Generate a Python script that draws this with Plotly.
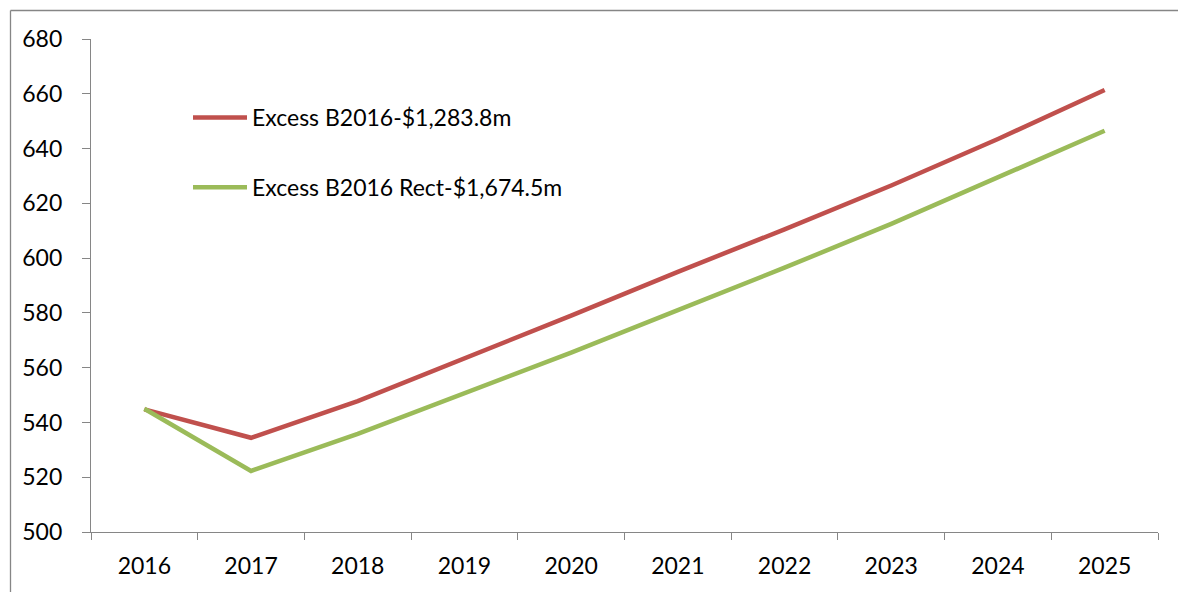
import plotly.graph_objects as go

years = ["2016", "2017", "2018", "2019", "2020", "2021", "2022", "2023", "2024", "2025"]
excess_b2016 = [544.8, 534.4, 547.8, 563.2, 579.0, 595.0, 610.5, 626.5, 643.5, 661.4]
excess_b2016_rect = [545.0, 522.3, 535.8, 550.5, 565.5, 581.0, 596.5, 612.5, 629.3, 646.5]
series_names = ["Excess B2016-$1,283.8m", "Excess B2016 Rect-$1,674.5m"]
series_colors = ["#C0504D", "#9BBB59"]
y_ticks = [500, 520, 540, 560, 580, 600, 620, 640, 660, 680]

AX = "#868686"
FONT = "Lato, 'Liberation Sans', sans-serif"

fig = go.Figure()
for i, (vals, name, col) in enumerate(zip([excess_b2016, excess_b2016_rect], series_names, series_colors)):
    fig.add_trace(go.Scatter(
        x=years, y=vals, mode="lines", name=name, legendgroup=f"g{i}",
        line=dict(color=col, width=4.5),
    ))

W, H = 1178, 592
L, R, T, B = 91, 20, 39, 60
pw, ph = W - L - R, H - T - B

def px_x(p):
    return (p - L) / pw

def px_y(p):
    return (H - B - p) / ph

fig.update_layout(
    width=W, height=H,
    margin=dict(l=L, r=R, t=T, b=B, pad=0),
    paper_bgcolor="white", plot_bgcolor="white",
    font=dict(family=FONT, size=23, color="black"),
    showlegend=True,
    legend=dict(
        x=px_x(188), y=px_y(96), xanchor="left", yanchor="top",
        bgcolor="rgba(0,0,0,0)", borderwidth=0,
        traceorder="grouped", tracegroupgap=37,
        itemwidth=54,
        font=dict(family=FONT, size=23, color="black"),
    ),
    xaxis=dict(
        type="category", range=[-0.5, 9.5],
        showline=True, linecolor=AX, linewidth=1.3,
        ticks="outside", tickson="boundaries", ticklen=7, tickcolor=AX, tickwidth=1.3,
        showgrid=False, zeroline=False,
        ticklabelstandoff=13,
        tickfont=dict(family=FONT, size=23, color="black"),
    ),
    yaxis=dict(
        range=[500, 680], tickvals=y_ticks,
        showline=True, linecolor=AX, linewidth=1.3,
        ticks="outside", ticklen=8, tickcolor=AX, tickwidth=1.3,
        showgrid=False, zeroline=False,
        ticklabelstandoff=15,
        tickfont=dict(family=FONT, size=23, color="black"),
    ),
    shapes=[
        dict(type="line", xref="paper", yref="paper",
             x0=px_x(10.5), x1=px_x(10.5), y0=px_y(10.5), y1=px_y(H + 2),
             line=dict(color=AX, width=1.3)),
        dict(type="line", xref="paper", yref="paper",
             x0=px_x(10.5), x1=px_x(W + 2), y0=px_y(10.5), y1=px_y(10.5),
             line=dict(color=AX, width=1.3)),
    ],
)

fig.write_html("out.html")
